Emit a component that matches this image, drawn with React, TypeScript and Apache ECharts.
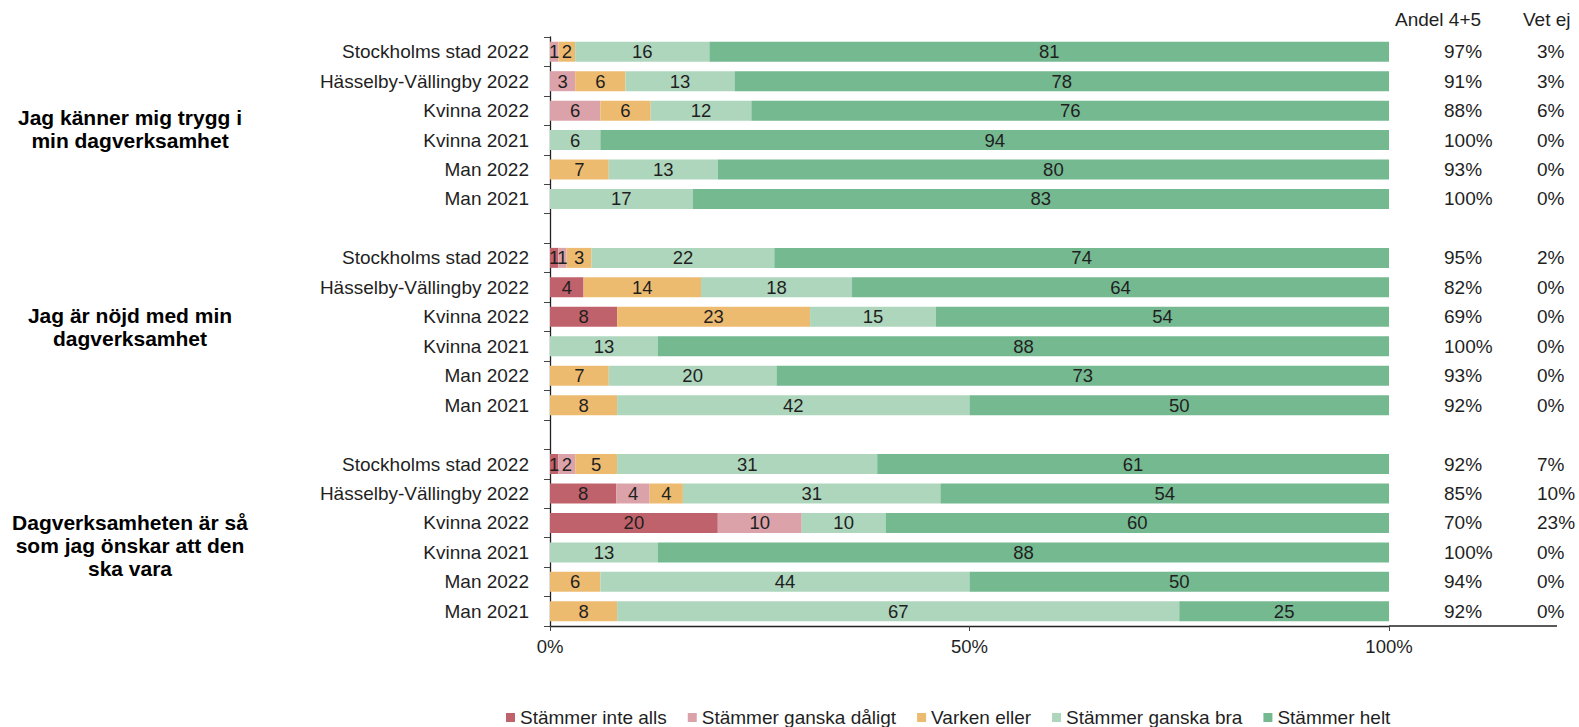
import React, { useEffect, useRef } from "react";
import * as echarts from "echarts";

const categories = [
  "Stockholms stad 2022", "Hässelby-Vällingby 2022", "Kvinna 2022", "Kvinna 2021", "Man 2022", "Man 2021",
  "",
  "Stockholms stad 2022", "Hässelby-Vällingby 2022", "Kvinna 2022", "Kvinna 2021", "Man 2022", "Man 2021",
  "",
  "Stockholms stad 2022", "Hässelby-Vällingby 2022", "Kvinna 2022", "Kvinna 2021", "Man 2022", "Man 2021",
];

const seriesNames = ["Stämmer inte alls", "Stämmer ganska dåligt", "Varken eller", "Stämmer ganska bra", "Stämmer helt"];
const colors = ["#C0626B", "#DBA3A9", "#EDBB70", "#ADD6BC", "#75B991"];

const inteAlls = [0, 0, 0, 0, 0, 0, null, 1, 4, 8, 0, 0, 0, null, 1, 8, 20, 0, 0, 0];
const ganskaDaligt = [1, 3, 6, 0, 0, 0, null, 1, 0, 0, 0, 0, 0, null, 2, 4, 10, 0, 0, 0];
const varkenEller = [2, 6, 6, 0, 7, 0, null, 3, 14, 23, 0, 7, 8, null, 5, 4, 0, 0, 6, 8];
const ganskaBra = [16, 13, 12, 6, 13, 17, null, 22, 18, 15, 13, 20, 42, null, 31, 31, 10, 13, 44, 67];
const helt = [81, 78, 76, 94, 80, 83, null, 74, 64, 54, 88, 73, 50, null, 61, 54, 60, 88, 50, 25];

const andel45 = ["97%", "91%", "88%", "100%", "93%", "100%", "", "95%", "82%", "69%", "100%", "93%", "92%", "", "92%", "85%", "70%", "100%", "94%", "92%"];
const vetEj = ["3%", "3%", "6%", "0%", "0%", "0%", "", "2%", "0%", "0%", "0%", "0%", "0%", "", "7%", "10%", "23%", "0%", "0%", "0%"];

const groupTitles = [
  "Jag känner mig trygg i\nmin dagverksamhet",
  "Jag är nöjd med min\ndagverksamhet",
  "Dagverksamheten är så\nsom jag önskar att den\nska vara",
];

const xTicks = [0, 50, 100];

const FONT = "'Liberation Sans', Arial, sans-serif";
const TXT = "#1f1f1f";

export default function App() {
  const ref = useRef<HTMLDivElement>(null);
  useEffect(() => {
    if (!ref.current) return;
    const chart = echarts.init(ref.current, null, { renderer: "svg" });
    const raw = [inteAlls, ganskaDaligt, varkenEller, ganskaBra, helt];
    const sums = categories.map((_, i) =>
      raw.reduce((s, arr) => s + (arr[i] == null ? 0 : (arr[i] as number)), 0)
    );
    const series = raw.map((arr, si) => ({
      name: seriesNames[si],
      type: "bar",
      stack: "total",
      barWidth: 20,
      itemStyle: { color: colors[si] },
      data: arr.map((v, i) => (v == null ? null : ((v as number) / sums[i]) * 100)),
      label: {
        show: true,
        position: "inside",
        color: TXT,
        fontSize: 18.5,
        fontFamily: FONT,
        formatter: (p: any) => {
          const v = arr[p.dataIndex];
          return v ? String(v) : "";
        },
      },
    }));

    const graphicTexts = [
      { y: 129, t: groupTitles[0] },
      { y: 327, t: groupTitles[1] },
      { y: 545, t: groupTitles[2] },
    ].map((g) => ({
      type: "text",
      x: 130,
      y: g.y,
      style: {
        text: g.t,
        fill: "#000",
        fontWeight: "bold",
        fontSize: 21,
        fontFamily: FONT,
        align: "center",
        verticalAlign: "middle",
        lineHeight: 23,
      },
    }));

    chart.setOption({
      animation: false,
      textStyle: { fontFamily: FONT },
      grid: { left: 550, right: 190, top: 37, bottom: 101, containLabel: false },
      xAxis: {
        type: "value",
        min: 0,
        max: 100,
        interval: 50,
        axisLine: { show: true, lineStyle: { color: "#222", width: 1.3 } },
        axisTick: { show: true, length: 5, lineStyle: { color: "#444" } },
        splitLine: { show: false },
        axisLabel: {
          margin: 11,
          fontSize: 18.5,
          color: TXT,
          fontFamily: FONT,
          formatter: (v: number) => (xTicks.includes(v) ? `${v}%` : ""),
        },
      },
      yAxis: [
        {
          type: "category",
          inverse: true,
          data: categories,
          axisLine: { show: true, lineStyle: { color: "#222", width: 1.3 } },
          axisTick: { show: true, length: 6, lineStyle: { color: "#444" } },
          axisLabel: { margin: 21, fontSize: 19, color: TXT, fontFamily: FONT },
        },
        {
          type: "category",
          inverse: true,
          position: "right",
          data: andel45,
          axisLine: { show: false },
          axisTick: { show: false },
          axisLabel: { margin: 55, fontSize: 19, color: TXT, fontFamily: FONT, align: "left" },
        },
        {
          type: "category",
          inverse: true,
          position: "right",
          data: vetEj,
          axisLine: { show: false },
          axisTick: { show: false },
          axisLabel: { margin: 148, fontSize: 19, color: TXT, fontFamily: FONT, align: "left" },
        },
      ],
      legend: {
        data: seriesNames,
        left: 501,
        top: 703,
        icon: "rect",
        itemWidth: 9,
        itemHeight: 9,
        itemGap: 21,
        textStyle: { fontSize: 19, color: TXT, fontFamily: FONT },
      },
      graphic: [
        ...graphicTexts,
        {
          type: "text",
          left: 1395,
          top: 10,
          style: { text: "Andel 4+5", fill: TXT, fontSize: 19, fontFamily: FONT },
        },
        {
          type: "text",
          left: 1523,
          top: 10,
          style: { text: "Vet ej", fill: TXT, fontSize: 19, fontFamily: FONT },
        },
        {
          type: "line",
          shape: { x1: 1389, y1: 626, x2: 1557, y2: 626 },
          style: { stroke: "#222", lineWidth: 1.3 },
        },
      ],
      series,
    });
    return () => chart.dispose();
  }, []);
  return (
    <div
      ref={ref}
      style={{ position: "fixed", left: 0, top: 0, width: 1579, height: 727, background: "#fff" }}
    />
  );
}
